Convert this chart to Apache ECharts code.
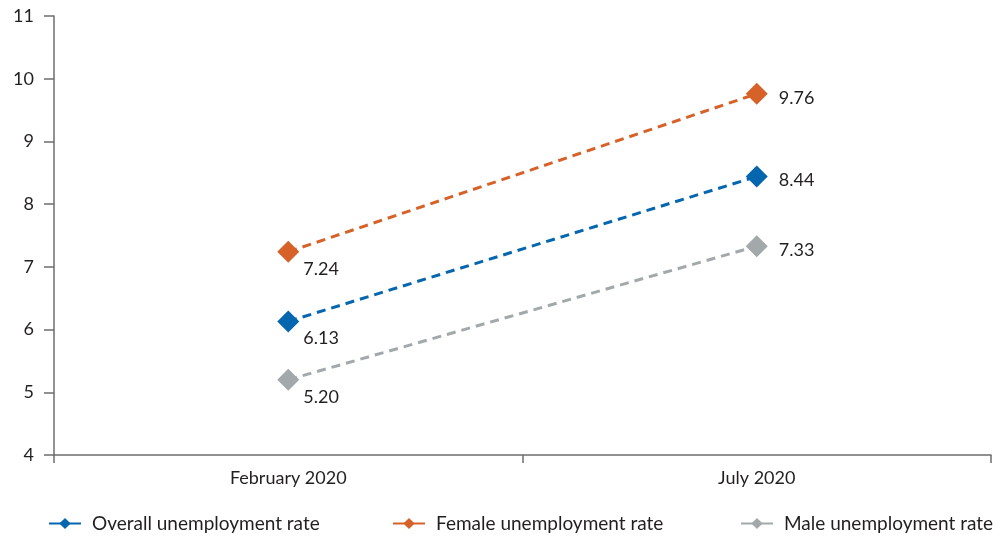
<!DOCTYPE html>
<html>
<head>
<meta charset="utf-8">
<script src="https://cdn.jsdelivr.net/npm/echarts@6/dist/echarts.min.js"></script>
<style>
html,body{margin:0;padding:0;background:#fff;}
#chart{width:1005px;height:537px;}
</style>
</head>
<body>
<div id="chart"></div>
<script>
const categories = ['February 2020', 'July 2020'];
const overallRate = [6.13, 8.44];
const femaleRate = [7.24, 9.76];
const maleRate = [5.20, 7.33];
const seriesNames = ['Overall unemployment rate', 'Female unemployment rate', 'Male unemployment rate'];
const colors = ['#0466AE', '#D6622A', '#A3A8AB'];

const FONT = 'Lato';
const TEXT = '#231F20';

function makeSeries(name, data, color) {
  return {
    name: name,
    type: 'line',
    data: data,
    symbol: 'diamond',
    symbolSize: 22,
    itemStyle: { color: color },
    lineStyle: { color: color, width: 3, type: [9, 6] },
    label: {
      show: true,
      color: TEXT,
      fontFamily: FONT,
      fontSize: 18,
      formatter: p => p.value.toFixed(2),
      position: 'right'
    },
    // first point: value sits below-right of the marker; last point: to its right
    labelLayout: function (params) {
      if (params.dataIndex === 0) {
        return { dx: -1, dy: 17 };
      }
      return { dx: 6, dy: 4 };
    },
    emphasis: { disabled: true },
    animation: false
  };
}

const chart = echarts.init(document.getElementById('chart'));
const legendBase = {
  top: 509,
  itemWidth: 32,
  itemHeight: 14,
  itemGap: 0,
  textStyle: { fontFamily: FONT, fontSize: 19, color: TEXT, padding: [0, 0, 0, 6] },
  selectedMode: false,
  lineStyle: { type: 'solid' }
};
chart.setOption({
  backgroundColor: '#fff',
  color: colors,
  grid: { left: 54, right: 14, top: 16, bottom: 82 },
  legend: [
    Object.assign({}, legendBase, { left: 43, data: [seriesNames[0]] }),
    Object.assign({}, legendBase, { left: 387, data: [seriesNames[1]] }),
    Object.assign({}, legendBase, { left: 735, data: [seriesNames[2]] })
  ],
  xAxis: {
    type: 'category',
    data: categories,
    boundaryGap: true,
    axisLine: { lineStyle: { color: '#6E6E6E', width: 1.5 } },
    axisTick: { show: true, length: 8, inside: false, lineStyle: { color: '#6E6E6E', width: 1.5 } },
    axisLabel: { color: TEXT, fontFamily: FONT, fontSize: 18, margin: 14 },
    splitLine: { show: false }
  },
  yAxis: {
    type: 'value',
    min: 4,
    max: 11,
    interval: 1,
    axisLine: { show: true, onZero: false, lineStyle: { color: '#6E6E6E', width: 1.5 } },
    axisTick: { show: true, length: 10, lineStyle: { color: '#6E6E6E', width: 1.5 } },
    axisLabel: { color: TEXT, fontFamily: FONT, fontSize: 18, margin: 20 },
    splitLine: { show: false }
  },
  series: [
    makeSeries(seriesNames[0], overallRate, colors[0]),
    makeSeries(seriesNames[1], femaleRate, colors[1]),
    makeSeries(seriesNames[2], maleRate, colors[2])
  ]
});
</script>
</body>
</html>
